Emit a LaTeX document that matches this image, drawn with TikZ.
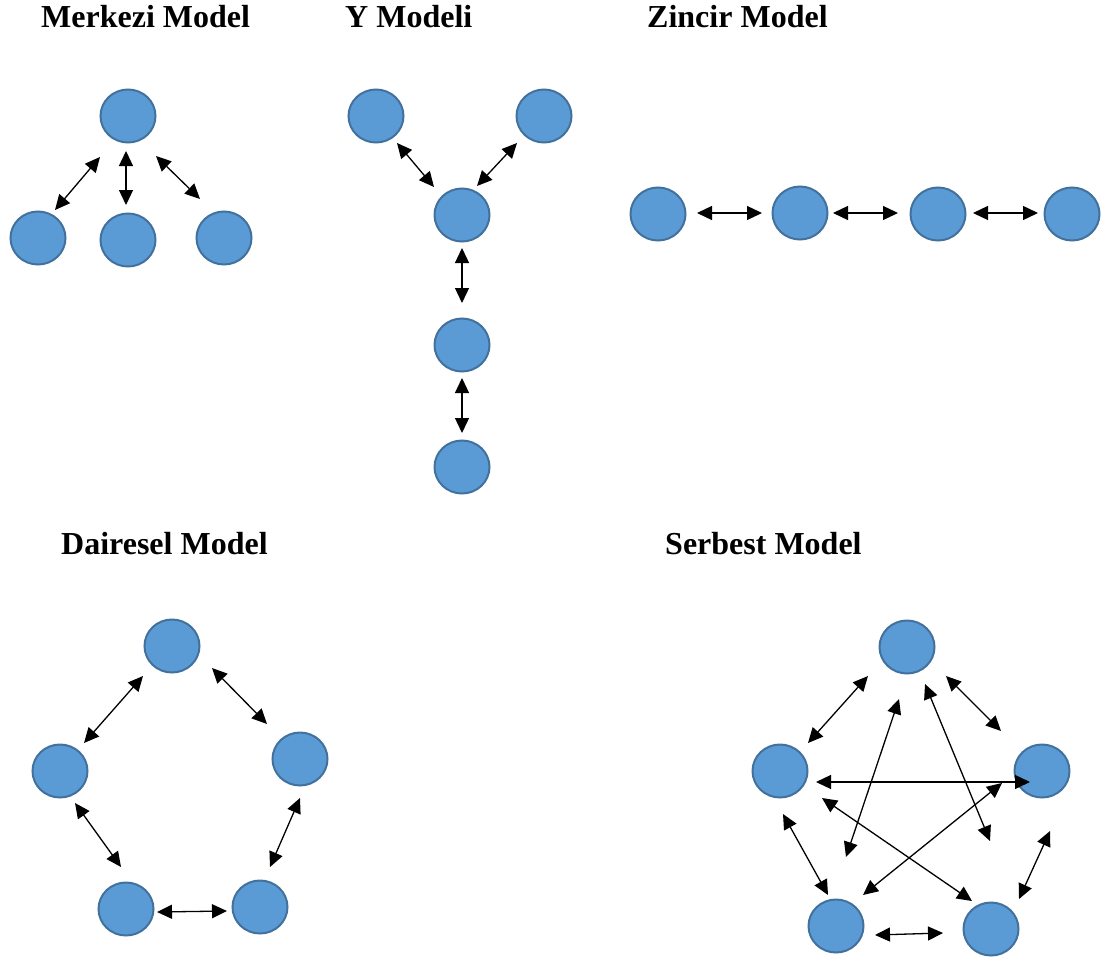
\documentclass[tikz,border=0pt]{standalone}
\usepackage{fontspec}
\setmainfont{Liberation Serif}
\usetikzlibrary{shapes.geometric,arrows.meta}
\definecolor{nodefill}{HTML}{5B9BD5}
\definecolor{nodeline}{HTML}{41719C}
\tikzset{
  person/.style={ellipse,draw=nodeline,fill=nodefill,line width=2pt,minimum width=55pt,minimum height=53pt,inner sep=0pt},
  link/.style={line width=1.3pt,{Triangle[length=15pt,width=14pt]}-{Triangle[length=15pt,width=14pt]}},
  title/.style={anchor=base west,inner sep=0pt,font=\bfseries\fontsize{32}{38}\selectfont}
}
\begin{document}
\begin{tikzpicture}[x=1pt,y=-1pt]
\useasboundingbox (0,0) rectangle (1105,963);
% titles
\node[title] (t1) at (41,28) {Merkezi Model};
\node[title] (t2) at (345,28) {Y Modeli};
\node[title] (t3) at (647,28) {Zincir Model};
\node[title] (t4) at (61,554) {Dairesel Model};
\node[title] (t5) at (665,554) {Serbest Model};
% Merkezi
\node[person] (m0) at (128,116) {};
\node[person] (m1) at (38,238) {};
\node[person] (m2) at (128,240) {};
\node[person] (m3) at (224,238) {};
\coordinate (ma1) at (55,210); \coordinate (mb1) at (100,157);
\coordinate (ma2) at (126,151); \coordinate (mb2) at (126,205);
\coordinate (ma3) at (156,156); \coordinate (mb3) at (200,199);
\draw[link] (ma1) -- (mb1);
\draw[link] (ma2) -- (mb2);
\draw[link] (ma3) -- (mb3);
% Y
\node[person] (y1) at (376,116) {};
\node[person] (y2) at (544,116) {};
\node[person] (y0) at (462,215) {};
\node[person] (y3) at (462,345) {};
\node[person] (y4) at (462,467) {};
\coordinate (ya1) at (397,143); \coordinate (yb1) at (434,187);
\coordinate (ya2) at (517,143); \coordinate (yb2) at (477,186);
\coordinate (ya3) at (462,248); \coordinate (yb3) at (462,303);
\coordinate (ya4) at (462,378); \coordinate (yb4) at (462,433);
\draw[link] (ya1) -- (yb1);
\draw[link] (ya2) -- (yb2);
\draw[link] (ya3) -- (yb3);
\draw[link] (ya4) -- (yb4);
% Zincir
\node[person] (z1) at (658,214) {};
\node[person] (z2) at (800,213) {};
\node[person] (z3) at (938,214) {};
\node[person] (z4) at (1072,214) {};
\coordinate (za1) at (697,213); \coordinate (zb1) at (762,213);
\coordinate (za2) at (833,213); \coordinate (zb2) at (898,213);
\coordinate (za3) at (973,213); \coordinate (zb3) at (1038,213);
\draw[link] (za1) -- (zb1);
\draw[link] (za2) -- (zb2);
\draw[link] (za3) -- (zb3);
% Dairesel
\node[person] (d1) at (172,646) {};
\node[person] (d2) at (60,771) {};
\node[person] (d3) at (300,759) {};
\node[person] (d4) at (126,909) {};
\node[person] (d5) at (260,907) {};
\coordinate (da1) at (84,743); \coordinate (db1) at (143,676);
\coordinate (da2) at (212,668); \coordinate (db2) at (267,724);
\coordinate (da3) at (75,803); \coordinate (db3) at (121,867);
\coordinate (da4) at (270,867); \coordinate (db4) at (300,798);
\coordinate (da5) at (157,912); \coordinate (db5) at (227,911);
\draw[link] (da1) -- (db1);
\draw[link] (da2) -- (db2);
\draw[link] (da3) -- (db3);
\draw[link] (da4) -- (db4);
\draw[link] (da5) -- (db5);
% Serbest
\node[person] (s1) at (907,647) {};
\node[person] (s2) at (780,771) {};
\node[person] (s3) at (1042,771) {};
\node[person] (s4) at (836,926) {};
\node[person] (s5) at (991,929) {};
\coordinate (sa1) at (808,743); \coordinate (sb1) at (868,676);
\coordinate (sa2) at (946,676); \coordinate (sb2) at (1001,731);
\coordinate (sa3) at (899,699); \coordinate (sb3) at (846,857);
\coordinate (sa4) at (925,684); \coordinate (sb4) at (990,841);
\coordinate (sa5) at (816,782); \coordinate (sb5) at (1030,782);
\coordinate (sa6) at (822,798); \coordinate (sb6) at (972,901);
\coordinate (sa7) at (1002,783); \coordinate (sb7) at (863,895);
\coordinate (sa8) at (783,814); \coordinate (sb8) at (828,895);
\coordinate (sa9) at (1019,899); \coordinate (sb9) at (1050,831);
\coordinate (sa10) at (875,935); \coordinate (sb10) at (943,933);
\draw[link] (sa1) -- (sb1);
\draw[link] (sa2) -- (sb2);
\draw[link] (sa3) -- (sb3);
\draw[link] (sa4) -- (sb4);
\draw[link] (sa5) -- (sb5);
\draw[link] (sa6) -- (sb6);
\draw[link] (sa7) -- (sb7);
\draw[link] (sa8) -- (sb8);
\draw[link] (sa9) -- (sb9);
\draw[link] (sa10) -- (sb10);
\end{tikzpicture}
\end{document}
